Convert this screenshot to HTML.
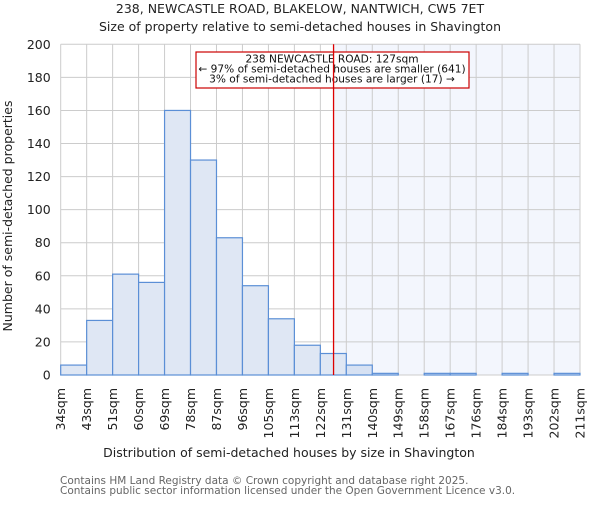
<!DOCTYPE html>
<html><head><meta charset="utf-8"><style>
body{margin:0;background:#fff}
svg{font-family:"DejaVu Sans","Liberation Sans",sans-serif}
</style></head><body>
<svg id="chart" width="600" height="500">
<text x="300" y="13" text-anchor="middle" font-size="12.5" fill="#222">238, NEWCASTLE ROAD, BLAKELOW, NANTWICH, CW5 7ET</text>
<text x="300" y="31" text-anchor="middle" font-size="12.5" fill="#222">Size of property relative to semi-detached houses in Shavington</text>
<g id="plot"></g>
<text x="289" y="457" text-anchor="middle" font-size="12.5" fill="#222">Distribution of semi-detached houses by size in Shavington</text>
<text transform="translate(12,216) rotate(-90)" text-anchor="middle" font-size="12.5" fill="#222">Number of semi-detached properties</text>
<text x="60" y="484" font-size="10.5" fill="#666">Contains HM Land Registry data © Crown copyright and database right 2025.</text>
<text x="60" y="494" font-size="10.5" fill="#666">Contains public sector information licensed under the Open Government Licence v3.0.</text>
</svg>
<script>
const categories=["34sqm","43sqm","51sqm","60sqm","69sqm","78sqm","87sqm","96sqm","105sqm","113sqm","122sqm","131sqm","140sqm","149sqm","158sqm","167sqm","176sqm","184sqm","193sqm","202sqm","211sqm"];
const counts=[6,33,61,56,160,130,83,54,34,18,13,6,1,0,1,1,0,1,0,1];
const yTicks=[0,20,40,60,80,100,120,140,160,180,200];
const binStart=34, binEnd=211;
const markerValue=127;
const NS="http://www.w3.org/2000/svg";
const L=60.7,R=580,T=44.3,B=375;
const nb=counts.length;
const xb=i=>L+(R-L)*i/nb;
const xv=v=>L+(R-L)*(v-binStart)/(binEnd-binStart);
const y=v=>B-(B-T)*v/200;
const g=document.getElementById('plot');
function mk(t,a){const e=document.createElementNS(NS,t);for(const k in a)e.setAttribute(k,a[k]);g.appendChild(e);return e;}
const mx=xv(markerValue);
let e=mk('rect',{x:mx,y:T,width:R-mx,height:B-T,fill:'#f3f6fd'});


for(let i=0;i<=nb;i++){e=mk('line',{x1:xb(i),x2:xb(i),y1:T,y2:B,stroke:'#cccccc','stroke-width':1});

}
yTicks.forEach(t=>{e=mk('line',{x1:L,x2:R,y1:y(t),y2:y(t),stroke:'#cccccc','stroke-width':1});


e=mk('text',{x:L-10,y:y(t)+4.5,'text-anchor':'end','font-size':12.5,fill:'#222'});e.textContent=t;

});
counts.forEach((c,i)=>{if(c<=0)return;e=mk('rect',{x:xb(i),y:y(c),width:xb(i+1)-xb(i),height:B-y(c),fill:i>=11?'#d6e1f3':'#dfe7f4',stroke:'#5b8fd6','stroke-width':1.2});

});
categories.forEach((c,i)=>{e=mk('text',{transform:`translate(${xb(i)+4.5},388) rotate(-90)`,'text-anchor':'end','font-size':12.5,fill:'#222'});e.textContent=c;

});
e=mk('rect',{x:196,y:52,width:273,height:36,fill:'#fff',stroke:'#cc0000','stroke-width':1.2});


["238 NEWCASTLE ROAD: 127sqm","← 97% of semi-detached houses are smaller (641)","3% of semi-detached houses are larger (17) →"].forEach((s,k)=>{e=mk('text',{x:332,y:62.5+k*10,'text-anchor':'middle','font-size':10.6,fill:'#111'});e.textContent=s;

});
e=mk('line',{x1:mx,x2:mx,y1:T,y2:B,stroke:'#dd0000','stroke-width':1.3});


</script>
</body></html>
